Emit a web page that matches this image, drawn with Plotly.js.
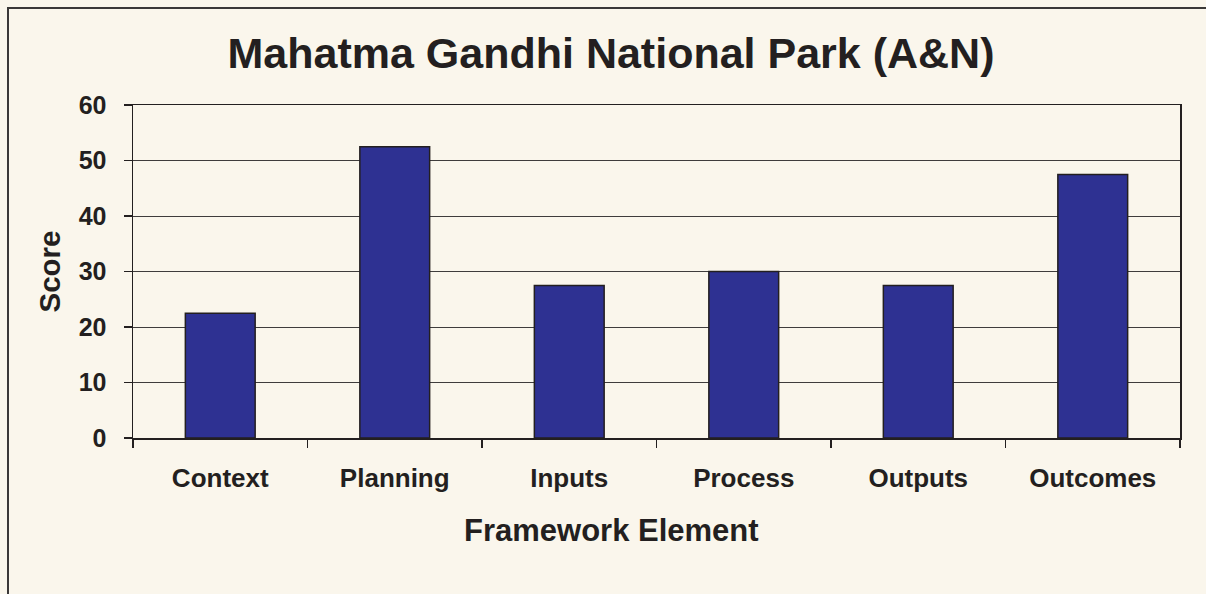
<!DOCTYPE html>
<html>
<head>
<meta charset="utf-8">
<script src="https://cdn.plot.ly/plotly-3.0.1.min.js"></script>
<style>
  html, body { margin: 0; padding: 0; background: #FAF6EC; }
  #wrap { position: relative; width: 1206px; height: 594px; overflow: hidden; }
  #chart { position: absolute; left: 0; top: 0; width: 1206px; height: 594px; }
  #frame { position: absolute; left: 7px; top: 7px; width: 1300px; height: 700px;
           border-left: 2px solid #3a3838; border-top: 2px solid #3a3838; pointer-events: none; }
</style>
</head>
<body>
<div id="wrap">
  <div id="chart"></div>
  <div id="frame"></div>
</div>
<script>
const categories = ["Context", "Planning", "Inputs", "Process", "Outputs", "Outcomes"];
const scores = [22.5, 52.5, 27.5, 30, 27.5, 47.5];
const yTicks = [0, 10, 20, 30, 40, 50, 60];
const titleText = "Mahatma Gandhi National Park (A&N)";
const xTitleText = "Framework Element";
const yTitleText = "Score";

const FONT = "Liberation Sans, Arial, sans-serif";
const INK = "#231F20";

const trace = {
  type: "bar",
  x: categories,
  y: scores,
  marker: { color: "#2E3192", line: { color: INK, width: 1.5 } },
  hoverinfo: "x+y"
};

const layout = {
  width: 1206, height: 594,
  paper_bgcolor: "#FAF6EC",
  plot_bgcolor: "#FAF6EC",
  margin: { l: 133, r: 26, t: 105, b: 156 },
  bargap: 0.6,
  showlegend: false,
  title: {
    text: titleText,
    font: { family: FONT, size: 43, color: INK, weight: "bold" },
    x: 611 / 1206, xref: "container", xanchor: "center",
    y: 1 - 53 / 594, yref: "container", yanchor: "middle"
  },
  xaxis: {
    type: "category",
    showline: true, linecolor: INK, linewidth: 1.5, mirror: true,
    ticks: "outside", tickson: "boundaries", ticklen: 8, tickcolor: INK, tickwidth: 1.5,
    tickfont: { family: FONT, size: 26, color: INK, weight: "bold" },
    ticklabelstandoff: 16,
    showgrid: false
  },
  yaxis: {
    range: [0, 60],
    tickvals: yTicks,
    showline: true, linecolor: INK, linewidth: 1.5, mirror: true,
    ticks: "outside", ticklen: 8, tickcolor: INK, tickwidth: 1.5,
    tickfont: { family: FONT, size: 25, color: INK, weight: "bold" },
    ticklabelstandoff: 12,
    showgrid: true, gridcolor: "#3f3c3c", gridwidth: 1,
    zeroline: false,
    title: { text: yTitleText, font: { family: FONT, size: 29.5, color: INK, weight: "bold" }, standoff: 9 }
  },
  annotations: [{
    text: xTitleText,
    xref: "paper", yref: "paper",
    x: (611 - 133) / 1047, y: -(530 - 438) / 333,
    xanchor: "center", yanchor: "middle",
    showarrow: false,
    font: { family: FONT, size: 31, color: INK, weight: "bold" }
  }]
};

Plotly.newPlot("chart", [trace], layout, { displayModeBar: false, staticPlot: true });
</script>
</body>
</html>
